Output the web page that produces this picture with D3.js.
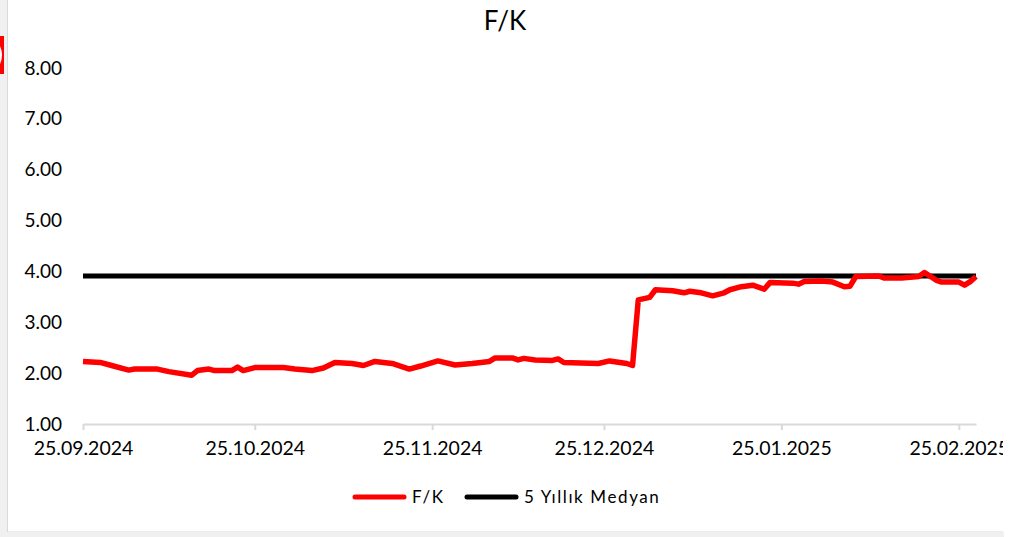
<!DOCTYPE html>
<html>
<head>
<meta charset="utf-8">
<script src="https://cdn.jsdelivr.net/npm/d3@7"></script>
<style>
  body { margin: 0; background: #fff; }
  text { font-family: Lato, "Open Sans", sans-serif; fill: #000; }
</style>
</head>
<body>
<script>
// data
const dates = ["2024-09-25","2024-09-28","2024-09-30","2024-10-03","2024-10-04","2024-10-08","2024-10-10","2024-10-14","2024-10-15","2024-10-17",
  "2024-10-18","2024-10-21","2024-10-22","2024-10-23","2024-10-25","2024-10-30","2024-11-01","2024-11-04","2024-11-06","2024-11-08",
  "2024-11-11","2024-11-13","2024-11-15","2024-11-18","2024-11-21","2024-11-23","2024-11-26","2024-11-29","2024-12-02","2024-12-05",
  "2024-12-06","2024-12-09","2024-12-10","2024-12-11","2024-12-13","2024-12-16","2024-12-17","2024-12-18","2024-12-24","2024-12-26",
  "2024-12-29","2024-12-30","2024-12-31","2025-01-02","2025-01-03","2025-01-06","2025-01-08","2025-01-09","2025-01-11","2025-01-13",
  "2025-01-15","2025-01-16","2025-01-18","2025-01-20","2025-01-22","2025-01-23","2025-01-27","2025-01-28","2025-01-29","2025-02-01",
  "2025-02-03","2025-02-05","2025-02-06","2025-02-07","2025-02-11","2025-02-12","2025-02-15","2025-02-18","2025-02-19","2025-02-21",
  "2025-02-22","2025-02-25","2025-02-26","2025-02-27","2025-02-28"]
const fk = [2.23,2.21,2.15,2.06,2.08,2.08,2.03,1.96,2.05,2.08,
  2.05,2.05,2.12,2.05,2.11,2.11,2.08,2.05,2.10,2.21,
  2.19,2.15,2.23,2.19,2.08,2.14,2.24,2.16,2.19,2.23,
  2.30,2.30,2.26,2.29,2.26,2.25,2.28,2.21,2.19,2.24,
  2.19,2.15,3.44,3.49,3.64,3.62,3.58,3.61,3.58,3.52,
  3.58,3.64,3.70,3.73,3.65,3.78,3.77,3.75,3.80,3.81,
  3.79,3.70,3.71,3.90,3.91,3.87,3.87,3.90,3.98,3.83,
  3.79,3.79,3.73,3.80,3.90]
const median5y = 3.91
const yTicks = [1,2,3,4,5,6,7,8]
const xTicks = ["2024-09-25","2024-10-25","2024-11-25","2024-12-25","2025-01-25","2025-02-25"]
const seriesNames = ["F/K", "5 Yıllık Medyan"]
const seriesColors = ["#ff0000", "#000000"]

const parse = d3.timeParse("%Y-%m-%d")
const data = dates.map((d, i) => ({date: parse(d), v: fk[i]}))

const svg = d3.select("body").append("svg")
  .attr("width", 1021)
  .attr("height", 537)

// grey margins left and bottom
svg.append("rect").attr("x", 0).attr("y", 0).attr("width", 8).attr("height", 537).style("fill", "#f0f0f0")
svg.append("rect").attr("x", 0).attr("y", 532).attr("width", 1004).attr("height", 5).style("fill", "#f0f0f0")

svg.append("clipPath").attr("id", "frame")
  .append("rect").attr("x", 0).attr("y", 0).attr("width", 1003).attr("height", 532)

const g = svg.append("g").attr("clip-path", "url(#frame)")

// chart frame
g.append("rect")
  .attr("x", 7.5).attr("y", -5)
  .attr("width", 996).attr("height", 537)
  .style("fill", "white")
  .style("stroke", "#d9d9d9")

// little red tab at the left edge
svg.append("rect").attr("x", 0).attr("y", 36).attr("width", 4).attr("height", 38).style("fill", "#ff0000")
svg.append("path").attr("d", "M0,46 Q4,55 0,64").style("fill", "white")

const x = d3.scaleTime()
  .domain([parse("2024-09-25"), parse("2025-02-28")])
  .range([83, 976])
const y = d3.scaleLinear()
  .domain([1, 8])
  .range([424, 68])

// title
g.append("text")
  .attr("x", 505).attr("y", 30)
  .attr("text-anchor", "middle")
  .style("font-size", "26px")
  .text("F/K")

// y axis labels, no line
const yAxis = g.append("g")
  .attr("transform", "translate(72,0)")
  .call(d3.axisLeft(y).tickValues(yTicks).tickFormat(d3.format(".2f")).tickSize(0).tickPadding(10))
yAxis.select(".domain").remove()
yAxis.selectAll("text").style("font-size", "19px").style("font-family", "Lato, sans-serif")

// x axis
const xAxis = g.append("g")
  .attr("transform", "translate(0,424)")
  .call(d3.axisBottom(x).tickValues(xTicks.map(parse)).tickFormat(d3.timeFormat("%d.%m.%Y")).tickSize(6).tickSizeOuter(0).tickPadding(11))
xAxis.select(".domain").style("stroke", "#d9d9d9").style("stroke-width", 2)
xAxis.selectAll(".tick line").style("stroke", "#d9d9d9").style("stroke-width", 2)
xAxis.selectAll("text").style("font-size", "19.5px").style("font-family", "Lato, sans-serif")

// median line
g.append("line")
  .attr("x1", x(parse(dates[0]))).attr("x2", x(parse(dates[dates.length - 1])))
  .attr("y1", y(median5y)).attr("y2", y(median5y))
  .style("stroke", seriesColors[1])
  .style("stroke-width", 5)

// F/K line
const line = d3.line().x(d => x(d.date)).y(d => y(d.v))
g.append("path")
  .datum(data)
  .attr("d", line)
  .style("fill", "none")
  .style("stroke", seriesColors[0])
  .style("stroke-width", 5.5)
  .style("stroke-linejoin", "round")

// legend
const legend = g.append("g").attr("transform", "translate(355,497)")
const legX = [0, 112]
seriesNames.forEach((name, i) => {
  legend.append("line")
    .attr("x1", legX[i]).attr("x2", legX[i] + 49)
    .attr("y1", 0).attr("y2", 0)
    .style("stroke", seriesColors[i])
    .style("stroke-width", 5)
    .style("stroke-linecap", "round")
  legend.append("text")
    .attr("x", legX[i] + 57).attr("y", 6)
    .style("font-size", "17px")
    .style("letter-spacing", "1.6px")
    .text(name)
})
</script>
</body>
</html>
